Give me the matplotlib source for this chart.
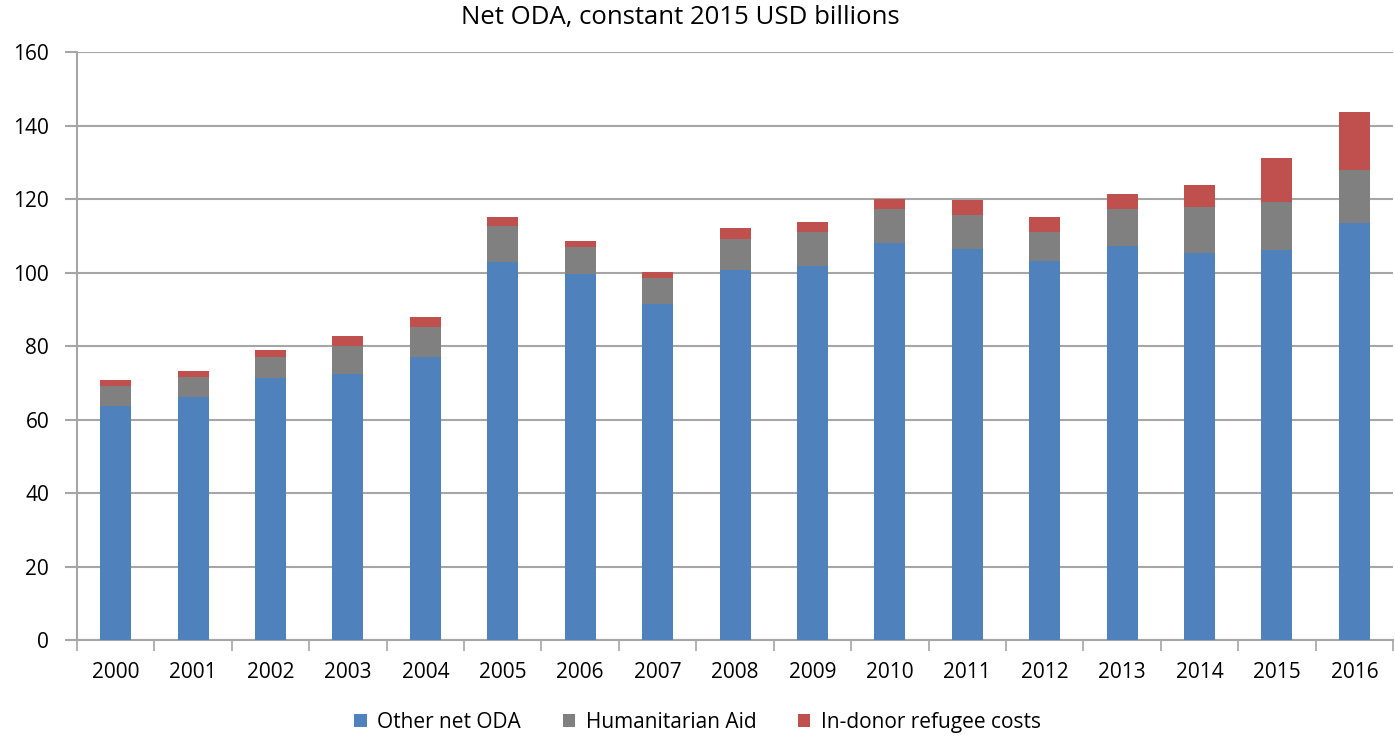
import matplotlib
matplotlib.use("Agg")
import matplotlib.pyplot as plt
import numpy as np
from matplotlib.ticker import FixedLocator, NullFormatter

years = ["2000", "2001", "2002", "2003", "2004", "2005", "2006", "2007", "2008",
         "2009", "2010", "2011", "2012", "2013", "2014", "2015", "2016"]
other_oda = [63.8, 66.2, 71.4, 72.5, 77.1, 102.9, 99.5, 91.5, 100.6,
             101.7, 108.1, 106.4, 103.0, 107.1, 105.4, 106.0, 113.4]
humanitarian = [5.2, 5.3, 5.6, 7.4, 8.0, 9.8, 7.4, 6.9, 8.5,
                9.2, 9.1, 9.2, 8.1, 10.3, 12.5, 13.1, 14.5]
refugee = [1.7, 1.6, 1.8, 2.9, 2.9, 2.3, 1.7, 1.7, 2.9,
           2.8, 2.8, 4.2, 4.0, 4.0, 5.8, 12.1, 15.7]
series_names = ["Other net ODA", "Humanitarian Aid", "In-donor refugee costs"]
colors = ["#4F81BD", "#808080", "#C0504D"]
yticks = [0, 20, 40, 60, 80, 100, 120, 140, 160]

plt.rcParams['font.family'] = ['Open Sans', 'DejaVu Sans']

fig = plt.figure(figsize=(13.95, 7.43), dpi=100)
ax = fig.add_axes([0.0552, 0.1386, 0.9434, 0.7914])

x = np.arange(len(years))
o = np.array(other_oda)
h = np.array(humanitarian)
r = np.array(refugee)
w = 0.40
ax.bar(x, o, w, color=colors[0], label=series_names[0], zorder=3)
ax.bar(x, h, w, bottom=o, color=colors[1], label=series_names[1], zorder=3)
ax.bar(x, r, w, bottom=o + h, color=colors[2], label=series_names[2], zorder=3)

ax.set_xlim(-0.5, len(years) - 0.5)
ax.set_ylim(0, 160)
ax.set_yticks(yticks)
ax.yaxis.grid(True, color="#A6A6A6", linewidth=1.5, zorder=0)
ax.set_axisbelow(True)

ax.set_xticks(x)
ax.set_xticklabels(years, fontsize=15)
ax.tick_params(axis='x', which='major', length=0, pad=16)
ax.xaxis.set_minor_locator(FixedLocator(np.arange(-0.5, len(years), 1.0)))
ax.xaxis.set_minor_formatter(NullFormatter())
ax.tick_params(axis='x', which='minor', length=8, width=1.2, color="#A6A6A6")
ax.tick_params(axis='y', length=9, width=1.5, color="#A6A6A6", labelsize=15, pad=11)

for s in ["top", "right"]:
    ax.spines[s].set_visible(False)
for s in ["left", "bottom"]:
    ax.spines[s].set_color("#A6A6A6")
    ax.spines[s].set_linewidth(1.5)

fig.text(0.488, 0.976, "Net ODA, constant 2015 USD billions", fontsize=18.5,
         ha="center", va="center")

handles, labels = ax.get_legend_handles_labels()
fig.legend(handles, labels, loc="center", bbox_to_anchor=(0.5, 0.028), ncol=3,
           frameon=False, fontsize=15, handlelength=0.6, handleheight=0.6,
           handletextpad=0.5, columnspacing=2.0)

fig.savefig("out.png", dpi=100)
